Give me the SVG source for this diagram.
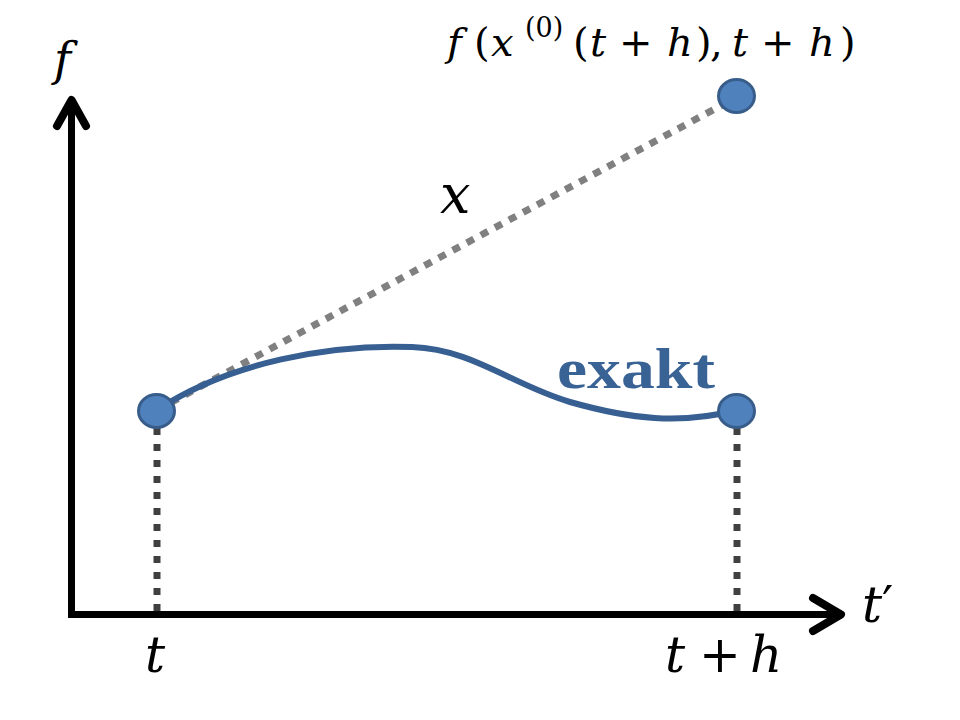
<svg xmlns="http://www.w3.org/2000/svg" width="960" height="720" viewBox="0 0 960 720">
<style>
.math{font-family:"DejaVu Serif","Liberation Serif",serif;font-style:italic;fill:#000}
.up{font-style:normal}
.axis{stroke:#000;stroke-width:7;fill:none}
.head{stroke:#000;stroke-width:8;fill:none;stroke-linecap:round;stroke-linejoin:round}
.pt{fill:#4f81bd;stroke:#385d8a;stroke-width:3}
.drop{stroke:#404040;stroke-width:7;stroke-dasharray:7 9;fill:none}
</style>
<rect width="960" height="720" fill="#fff"/>
<g id="connectors">
<line x1="157" y1="410" x2="737" y2="97" stroke="#808080" stroke-width="7" stroke-dasharray="8 8"/>
<line class="drop" x1="157" y1="428" x2="157" y2="611"/>
<line class="drop" x1="737" y1="428" x2="737" y2="611"/>
<path d="M157,410 C230,362 330,344 412,347 C472,349 512,385 570,402 C630,419 680,425 737,410" fill="none" stroke="#375f92" stroke-width="6"/>
</g>
<g id="axes">
<line class="axis" x1="71.5" y1="614" x2="71.5" y2="102"/>
<line class="axis" x1="68" y1="614.5" x2="838" y2="614.5"/>
<polyline class="head" points="57,126 71.5,100 86,126"/>
<polyline class="head" points="813,598 841,614.5 813,631"/>
<text class="math" x="54" y="75" font-size="46">f</text>
<text class="math" x="862" y="622" font-size="50">t<tspan class="up">′</tspan></text>
</g>
<g id="node-start">
<ellipse class="pt" cx="156.5" cy="411" rx="18" ry="16.5"/>
<text class="math" x="145" y="672" font-size="50">t</text>
</g>
<g id="node-end">
<ellipse class="pt" cx="736.5" cy="411" rx="18" ry="16.5"/>
<text class="math" y="672" font-size="50"><tspan x="665">t</tspan><tspan class="up" x="699">+</tspan><tspan x="750">h</tspan></text>
</g>
<g id="node-euler">
<ellipse class="pt" cx="736.5" cy="96" rx="18" ry="16.5"/>
<text class="math" y="56" font-size="40"><tspan x="447">f</tspan><tspan class="up" x="474">(</tspan><tspan x="491">x</tspan><tspan class="up" x="525" y="37" font-size="27">(0)</tspan><tspan class="up" x="573" y="56">(</tspan><tspan x="590">t</tspan><tspan class="up" x="619">+</tspan><tspan x="667">h</tspan><tspan class="up" x="696">)</tspan><tspan class="up" x="710">,</tspan><tspan x="732">t</tspan><tspan class="up" x="761">+</tspan><tspan x="809">h</tspan><tspan class="up" x="840">)</tspan></text>
</g>
<g id="label-x">
<text class="math" x="440" y="213" font-size="54">x</text>
</g>
<g id="label-exakt">
<text x="557" y="388" font-family="'Liberation Serif','DejaVu Serif',serif" font-weight="bold" font-size="56" fill="#3a6395" textLength="158" lengthAdjust="spacingAndGlyphs">exakt</text>
</g>
</svg>
